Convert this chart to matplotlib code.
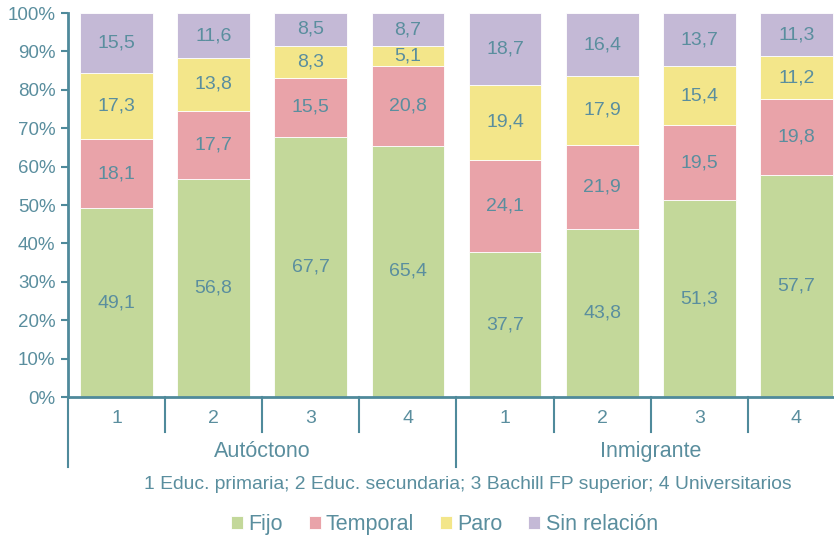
import matplotlib.pyplot as plt
import numpy as np

plt.rcParams['font.family'] = ['Liberation Sans', 'DejaVu Sans']

# datos
niveles = ['1', '2', '3', '4', '1', '2', '3', '4']
grupos = ['Autóctono', 'Inmigrante']
fijo = [49.1, 56.8, 67.7, 65.4, 37.7, 43.8, 51.3, 57.7]
temporal = [18.1, 17.7, 15.5, 20.8, 24.1, 21.9, 19.5, 19.8]
paro = [17.3, 13.8, 8.3, 5.1, 19.4, 17.9, 15.4, 11.2]
sin_relacion = [15.5, 11.6, 8.5, 8.7, 18.7, 16.4, 13.7, 11.3]

series = [('Fijo', fijo, '#c3d89a'),
          ('Temporal', temporal, '#e9a3a9'),
          ('Paro', paro, '#f3e68a'),
          ('Sin relación', sin_relacion, '#c4b9d6')]

txt = '#5a8e9e'
eje = '#4f8a9b'

fig = plt.figure(figsize=(8.34, 5.36), dpi=100)
# el eje sigue más allá del borde derecho (recortado como en el original)
ax = fig.add_axes([0.0815, 0.2593, 0.9317, 0.7164])

x = np.arange(len(niveles))
base = np.zeros(len(niveles))
for nombre, vals, col in series:
    vals = np.array(vals)
    ax.bar(x, vals, 0.75, bottom=base, color=col, edgecolor='white',
           linewidth=0.6, label=nombre)
    for xi, b, v in zip(x, base, vals):
        ax.text(xi, b + v / 2, f'{v:.1f}'.replace('.', ','), ha='center',
                va='center', color=txt, fontsize=14)
    base += vals

ax.set_xlim(-0.5, 7.5)
ax.set_ylim(0, 100)
ax.set_yticks(range(0, 101, 10))
ax.set_yticklabels([f'{v}%' for v in range(0, 101, 10)])
ax.tick_params(axis='y', colors=eje, labelcolor=txt, labelsize=13.5,
               length=5, width=1.5, direction='out', pad=4)
ax.set_xticks(x)
ax.set_xticklabels(niveles)
ax.tick_params(axis='x', length=0, labelsize=14, labelcolor=txt, pad=9)

for s in ['top', 'right']:
    ax.spines[s].set_visible(False)
for s in ['left', 'bottom']:
    ax.spines[s].set_color(eje)
    ax.spines[s].set_linewidth(2)

trans = ax.get_xaxis_transform()
# separadores bajo el eje
for xs in [0.5, 1.5, 2.5, 4.5, 5.5, 6.5]:
    ax.plot([xs, xs], [0, -0.091], color=eje, lw=1.5, transform=trans, clip_on=False)
for xs in [-0.5, 3.5]:
    ax.plot([xs, xs], [0, -0.182], color=eje, lw=1.5, transform=trans, clip_on=False)

ax.text(1.5, -0.142, grupos[0], transform=trans, ha='center', va='center',
        color=txt, fontsize=15.5)
ax.text(5.5, -0.142, grupos[1], transform=trans, ha='center', va='center',
        color=txt, fontsize=15.5)

fig.text(0.561, 0.096,
         '1 Educ. primaria; 2 Educ. secundaria; 3 Bachill FP superior; 4 Universitarios',
         ha='center', va='center', color=txt, fontsize=13.9)

leg = fig.legend(loc='center', bbox_to_anchor=(0.533, 0.022), ncol=4,
                 frameon=False, fontsize=15.5, handlelength=0.55, handleheight=0.55,
                 handletextpad=0.25, columnspacing=1.2)
for t in leg.get_texts():
    t.set_color(txt)

plt.savefig('out.png', dpi=100)
